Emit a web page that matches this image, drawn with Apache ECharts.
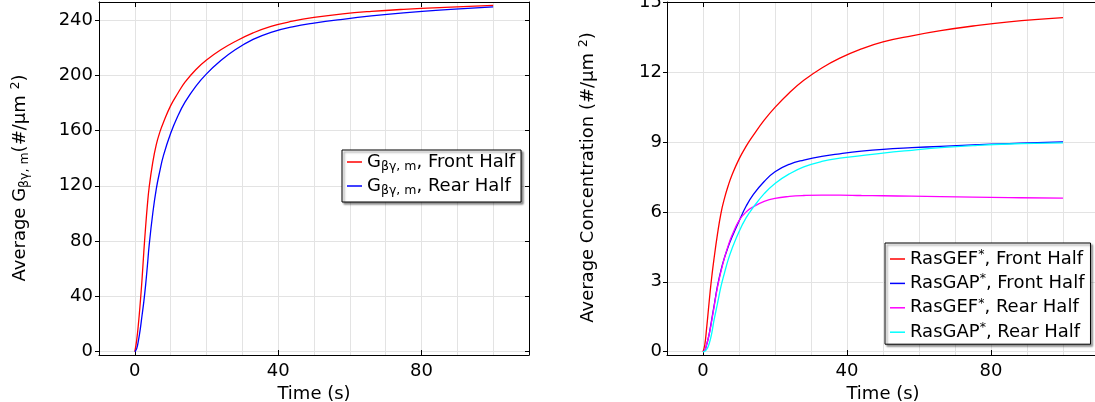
<!DOCTYPE html>
<html><head><meta charset="utf-8">
<script src="https://cdn.jsdelivr.net/npm/echarts@6/dist/echarts.min.js"></script>
<style>html,body{margin:0;padding:0;background:#fff}#c{width:1095px;height:402px}</style>
</head><body><div id="c"></div>
<script>
// ---- data ----
const timeL = [0, 0.5, 1, 1.5, 2, 2.5, 3, 3.5, 4, 5, 6, 7, 8, 10, 12, 14, 17, 20, 24, 28, 33, 38, 44, 50, 58, 66, 75, 85, 100];
const gbgFront = [0, 8, 20, 35, 52, 72, 90, 106, 119, 137, 150, 159, 166, 178, 187, 195, 204, 211, 218.4, 224.4, 230.65, 235.4, 239.1, 241.8, 244.4, 246.2, 247.7, 249.0, 250.5];
const gbgRear  = [0, 2, 8, 16, 26, 36, 48, 62, 77, 100, 118, 131, 142, 158, 170.5, 180.5, 192, 201, 210.6, 218.4, 225.9, 231.1, 235, 237.7, 240.5, 242.9, 245.1, 247.1, 249.5];

const timeR = [0, 0.5, 1, 1.5, 2, 2.5, 3, 4, 5, 6, 7, 8, 10, 12, 14, 17, 20, 24, 28, 33, 38, 44, 50, 58, 66, 75, 85, 100];
const gefFront = [0, 0.3, 1.0, 1.8, 2.6, 3.3, 3.92, 5.02, 5.95, 6.6, 7.12, 7.56, 8.26, 8.82, 9.29, 9.93, 10.48, 11.11, 11.64, 12.17, 12.59, 12.99, 13.29, 13.55, 13.77, 13.97, 14.15, 14.33];
const gapFront = [0, 0.05, 0.3, 0.6, 1.0, 1.45, 1.9, 2.8, 3.5, 4.05, 4.5, 4.9, 5.6, 6.25, 6.75, 7.3, 7.72, 8.04, 8.22, 8.38, 8.49, 8.6, 8.68, 8.75, 8.81, 8.87, 8.93, 9.0];
const gefRear  = [0, 0.05, 0.3, 0.6, 0.95, 1.4, 1.85, 2.75, 3.45, 4.05, 4.55, 4.97, 5.62, 6.0, 6.22, 6.45, 6.58, 6.66, 6.7, 6.72, 6.72, 6.7, 6.69, 6.67, 6.65, 6.63, 6.61, 6.59];
const gapRear  = [0, 0.02, 0.1, 0.25, 0.5, 0.85, 1.3, 2.05, 2.8, 3.4, 3.95, 4.4, 5.15, 5.75, 6.2, 6.78, 7.22, 7.63, 7.93, 8.16, 8.3, 8.41, 8.52, 8.64, 8.75, 8.84, 8.91, 8.96];

const xTickLabels = [0, 40, 80];
const yTickLabelsL = [0, 40, 80, 120, 160, 200, 240];
const yTickLabelsR = [0, 3, 6, 9, 12, 15];

const namesL = ['Gbg Front Half', 'Gbg Rear Half'];
const namesR = ['RasGEF Front Half', 'RasGAP Front Half', 'RasGEF Rear Half', 'RasGAP Rear Half'];
const legendText = {
  'Gbg Front Half': '{n|G}{sub|βγ, m}{n|, Front Half}',
  'Gbg Rear Half': '{n|G}{sub|βγ, m}{n|, Rear Half}',
  'RasGEF Front Half': '{n|RasGEF}{sup|*}{n|, Front Half}',
  'RasGAP Front Half': '{n|RasGAP}{sup|*}{n|, Front Half}',
  'RasGEF Rear Half': '{n|RasGEF}{sup|*}{n|, Rear Half}',
  'RasGAP Rear Half': '{n|RasGAP}{sup|*}{n|, Rear Half}'
};

// ---- styling ----
const FONT = 'DejaVu Sans';
const FS = 18;
const rich = {
  n: {fontFamily: FONT, fontSize: FS, color: '#000', lineHeight: 22, verticalAlign: 'middle'},
  sub: {fontFamily: FONT, fontSize: 12.5, color: '#000', lineHeight: 14, verticalAlign: 'bottom'},
  sup: {fontFamily: FONT, fontSize: 12.5, color: '#000', lineHeight: 14, verticalAlign: 'top'}
};
const GRID_COLOR = '#e3e3e3';
const pair = (t, v) => t.map((x, i) => [x, v[i]]);

const gridL = {left: 99, top: 2, width: 430, height: 353, outerBoundsMode: 'none', containLabel: false};
const gridR = {left: 667, top: 2, width: 432, height: 353, outerBoundsMode: 'none', containLabel: false};

function mainX(gi, pos) {
  const bottom = pos === 'bottom';
  return {
    type: 'value', gridIndex: gi, position: pos, min: -10, max: 110,
    axisLine: {show: true, onZero: false, lineStyle: {color: '#000', width: 1}},
    axisTick: {show: true, inside: true, length: 5, customValues: xTickLabels, lineStyle: {color: '#000'}},
    axisLabel: {show: bottom, customValues: xTickLabels, fontFamily: FONT, fontSize: FS, color: '#000', margin: 7},
    splitLine: {show: false},
    name: bottom ? 'Time (s)' : '', nameLocation: 'middle', nameGap: 25,
    nameTextStyle: {fontFamily: FONT, fontSize: FS, color: '#000'}
  };
}
function helperX(gi) {
  return {
    type: 'value', gridIndex: gi, min: -10, max: 110, interval: 10, z: -1,
    axisLine: {show: false}, axisTick: {show: false}, axisLabel: {show: false},
    splitLine: {show: true, showMinLine: false, showMaxLine: false, lineStyle: {color: GRID_COLOR, width: 1}}
  };
}
function mainY(gi, pos, min, max, ticks, margin) {
  const left = pos === 'left';
  return {
    type: 'value', gridIndex: gi, position: pos, min: min, max: max,
    axisLine: {show: true, onZero: false, lineStyle: {color: '#000', width: 1}},
    axisTick: {show: true, inside: !left, length: 4, customValues: ticks, lineStyle: {color: '#000'}},
    axisLabel: {show: left, customValues: ticks, fontFamily: FONT, fontSize: FS, color: '#000', margin: margin},
    splitLine: {show: left, lineStyle: {color: GRID_COLOR, width: 1}}
  };
}
function helperY(gi, min, max) {
  return {type: 'value', gridIndex: gi, min: min, max: max, show: false, splitLine: {show: false}};
}
function line(name, xi, yi, t, v, color) {
  return {
    name: name, type: 'line', xAxisIndex: xi, yAxisIndex: yi, data: pair(t, v),
    showSymbol: false, symbol: 'none', smooth: 0.45,
    lineStyle: {color: color, width: 1.3}, itemStyle: {color: color}, z: 3
  };
}
function legend(names, left, top, pad, gap) {
  return {
    data: names, orient: 'vertical', left: left, top: top, padding: pad, itemGap: gap,
    icon: 'rect', itemWidth: 15, itemHeight: 1.5,
    backgroundColor: '#fff', borderColor: '#000', borderWidth: 1,
    shadowColor: 'rgba(0,0,0,0.45)', shadowBlur: 2, shadowOffsetX: 2, shadowOffsetY: 2,
    formatter: n => legendText[n],
    textStyle: {fontFamily: FONT, fontSize: FS, color: '#000', rich: rich}
  };
}

const chart = echarts.init(document.getElementById('c'));
chart.setOption({
  animation: false,
  backgroundColor: '#fff',
  grid: [
    Object.assign({}, gridL), Object.assign({}, gridR),
    Object.assign({}, gridL), Object.assign({}, gridR)
  ],
  xAxis: [mainX(0, 'bottom'), mainX(0, 'top'), mainX(1, 'bottom'), mainX(1, 'top'), helperX(2), helperX(3)],
  yAxis: [
    mainY(0, 'left', -2.4, 253, yTickLabelsL, 6), mainY(0, 'right', -2.4, 253, yTickLabelsL, 6),
    mainY(1, 'left', -0.14, 15, yTickLabelsR, 5), mainY(1, 'right', -0.14, 15, yTickLabelsR, 5),
    helperY(2, -2.4, 253), helperY(3, -0.14, 15)
  ],
  legend: [
    legend(namesL, 342, 150, [3, 6, 5, 5], 4),
    legend(namesR, 885, 243, [5, 6, 3, 5], 4.4)
  ],
  graphic: [
    {type: 'text', x: 20, y: 178, rotation: Math.PI / 2, z: 10,
      style: {text: '{n|Average G}{sub|βγ, m}{n|(#/µm }{sup|2}{n|)}', rich: rich, align: 'center', verticalAlign: 'middle'}},
    {type: 'text', x: 588, y: 177.5, rotation: Math.PI / 2, z: 10,
      style: {text: '{n|Average Concentration (#/µm }{sup|2}{n|)}', rich: rich, align: 'center', verticalAlign: 'middle'}}
  ],
  series: [
    line(namesL[0], 0, 0, timeL, gbgFront, '#ff0000'),
    line(namesL[1], 0, 0, timeL, gbgRear, '#0000ff'),
    line(namesR[0], 2, 2, timeR, gefFront, '#ff0000'),
    line(namesR[1], 2, 2, timeR, gapFront, '#0000ff'),
    line(namesR[2], 2, 2, timeR, gefRear, '#ff00ff'),
    line(namesR[3], 2, 2, timeR, gapRear, '#00ffff')
  ]
});
</script>
</body></html>
